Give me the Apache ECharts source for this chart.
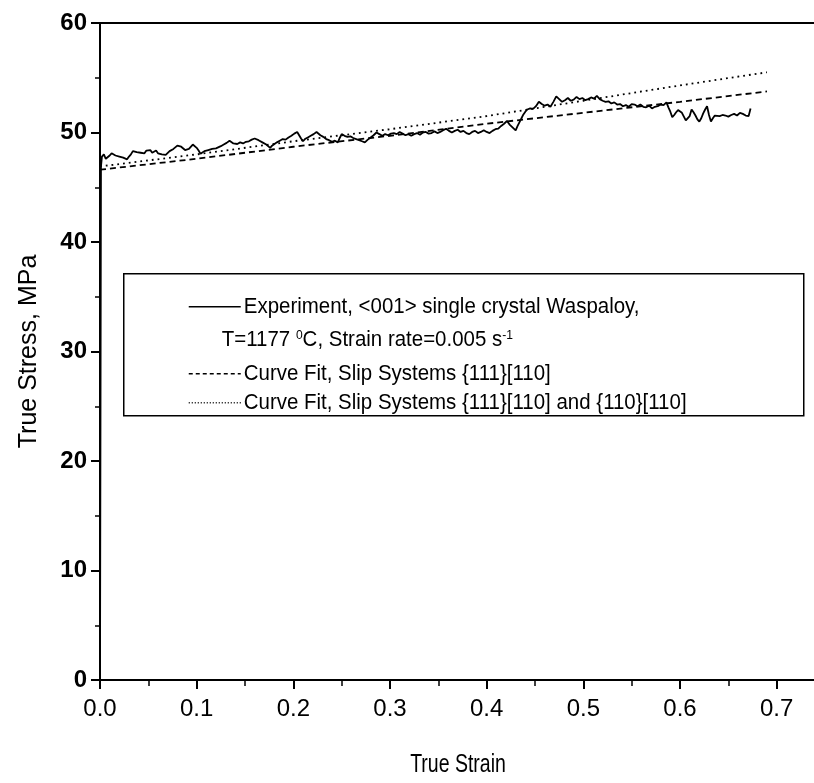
<!DOCTYPE html>
<html><head><meta charset="utf-8">
<script src="https://cdn.jsdelivr.net/npm/echarts@6/dist/echarts.min.js"></script>
<style>html,body{margin:0;padding:0;background:#fff;overflow:hidden;width:814px;height:783px}#c{width:825px;height:783px}</style>
</head><body><div id="c"></div>
<script>
// ---------- data ----------
// experiment: [true strain, true stress MPa]
const expCurve = [
[0,0],[0.001,46.9],[0.002,47.8],[0.004,48.0],[0.006,47.6],[0.008,47.7],[0.010,47.9],[0.012,48.1],[0.014,48.2],[0.016,47.9],
[0.018,48.0],[0.020,47.8],[0.022,47.9],[0.024,47.7],[0.026,47.6],[0.028,47.55],[0.030,47.8],[0.032,48.0],[0.034,48.3],[0.036,48.45],
[0.038,48.2],[0.040,48.35],[0.042,48.15],[0.044,48.3],[0.046,48.1],[0.048,48.35],[0.050,48.2],[0.052,48.4],[0.054,48.15],[0.056,48.3],
[0.058,48.35],[0.060,48.1],[0.062,48.2],[0.064,48.0],[0.066,48.15],[0.068,47.95],[0.070,48.1],[0.072,48.3],[0.074,48.25],[0.076,48.5],
[0.078,48.6],[0.080,48.8],[0.082,48.95],[0.084,48.7],[0.086,48.55],[0.088,48.4],[0.090,48.25],[0.092,48.5],[0.094,48.65],[0.096,48.9],
[0.098,48.95],[0.100,48.6],[0.102,48.35],[0.104,48.05],[0.106,48.15],[0.108,48.3],[0.110,48.2],[0.112,48.4],[0.114,48.3],[0.116,48.5],
[0.118,48.4],[0.120,48.55],[0.122,48.6],[0.125,48.75],[0.128,48.9],[0.131,49.05],[0.134,49.25],[0.136,49.1],[0.138,49.0],[0.140,48.85],
[0.142,48.95],[0.145,49.1],[0.148,49.0],[0.151,49.15],[0.154,49.2],[0.157,49.35],[0.160,49.45],[0.162,49.6],[0.164,49.3],[0.166,49.2],
[0.168,49.1],[0.170,49.15],[0.172,48.9],[0.174,48.75],[0.176,48.6],[0.178,48.8],[0.180,48.95],[0.183,49.1],[0.186,49.25],[0.189,49.4],
[0.192,49.35],[0.195,49.55],[0.198,49.7],[0.201,49.9],[0.204,50.05],[0.206,49.75],[0.208,49.45],[0.210,49.2],[0.212,49.4],[0.215,49.55],
[0.218,49.7],[0.221,49.85],[0.224,50.05],[0.226,49.95],[0.228,49.75],[0.231,49.6],[0.234,49.4],[0.237,49.3],[0.240,49.15],[0.243,49.25],
[0.246,49.1],[0.248,49.5],[0.250,49.85],[0.253,49.7],[0.256,49.6],[0.259,49.65],[0.262,49.5],[0.265,49.4],[0.268,49.3],[0.271,49.2],
[0.274,49.1],[0.277,49.35],[0.280,49.55],[0.283,49.75],[0.286,50.0],[0.289,49.85],[0.292,49.7],[0.295,49.85],[0.298,49.75],[0.301,49.9],
[0.304,49.95],[0.307,49.85],[0.310,50.05],[0.313,49.9],[0.316,49.75],[0.319,49.85],[0.322,49.7],[0.325,49.85],[0.328,49.95],[0.331,49.8],
[0.334,50.0],[0.337,50.05],[0.340,49.9],[0.343,49.95],[0.346,50.1],[0.349,49.95],[0.352,50.05],[0.355,50.2],[0.358,50.35],[0.361,50.15],
[0.364,50.0],[0.367,50.15],[0.370,50.25],[0.373,50.05],[0.376,50.15],[0.379,49.95],[0.382,49.85],[0.385,50.05],[0.388,50.15],[0.391,49.95],
[0.394,50.05],[0.397,50.2],[0.400,50.05],[0.403,49.95],[0.406,50.15],[0.409,50.3],[0.412,50.35],[0.415,50.6],[0.418,50.8],[0.421,51.05],
[0.424,50.7],[0.427,50.45],[0.430,50.2],[0.432,50.6],[0.434,50.95],[0.436,51.3],[0.438,51.65],[0.440,51.9],[0.442,52.1],[0.445,52.2],
[0.448,52.15],[0.451,52.4],[0.454,52.8],[0.457,52.6],[0.460,52.45],[0.463,52.55],[0.466,52.35],[0.469,52.8],[0.472,53.3],[0.475,53.05],
[0.478,52.8],[0.481,52.95],[0.484,53.15],[0.487,52.9],[0.490,53.0],[0.493,53.25],[0.496,53.05],[0.499,53.15],[0.502,52.95],[0.505,53.05],
[0.508,53.2],[0.511,53.1],[0.514,53.35],[0.517,53.05],[0.520,52.9],[0.523,52.8],[0.526,52.85],[0.529,52.65],[0.532,52.75],[0.535,52.55],
[0.538,52.6],[0.541,52.4],[0.544,52.5],[0.547,52.35],[0.550,52.6],[0.553,52.55],[0.556,52.4],[0.559,52.55],[0.562,52.35],[0.565,52.3],
[0.568,52.45],[0.571,52.2],[0.574,52.35],[0.577,52.4],[0.580,52.55],[0.583,52.5],[0.586,52.75],[0.588,52.3],[0.590,51.9],[0.592,51.4],
[0.594,51.6],[0.596,51.85],[0.598,52.05],[0.600,52.15],[0.602,51.8],[0.604,51.45],[0.606,51.1],[0.608,51.0],[0.610,51.5],[0.612,52.1],
[0.614,51.85],[0.616,51.55],[0.618,51.2],[0.620,51.0],[0.622,51.3],[0.624,51.75],[0.626,52.1],[0.628,52.4],[0.630,51.6],[0.632,51.0],
[0.634,51.3],[0.636,51.55],[0.638,51.65],[0.641,51.5],[0.644,51.6],[0.647,51.55],[0.650,51.45],[0.653,51.6],[0.656,51.7],[0.659,51.55],
[0.662,51.8],[0.665,51.7],[0.668,51.55],[0.671,51.5],[0.673,52.2]
];
const fitStrain  = [0, 0.1, 0.2, 0.3, 0.4, 0.5, 0.6, 0.69];
const fit1Stress = [46.6, 47.6, 48.7, 49.7, 50.8, 51.8, 52.8, 53.75];   // {111}[110]
const fit2Stress = [46.9, 48.0, 49.2, 50.3, 51.5, 52.9, 54.3, 55.5];    // {111}[110] and {110}[110]
const legendLines = [
  'Experiment, <001> single crystal Waspaloy,',
  'T=1177 {sup|0}C, Strain rate=0.005 s{sup|-1}',
  'Curve Fit, Slip Systems {111}[110]',
  'Curve Fit, Slip Systems {111}[110] and {110}[110]'
];
const xTitle = 'True Strain';
const yTitle = 'True Stress, MPa';

const zip = (a, b) => a.map((v, i) => [v, b[i]]);
const FONT = 'Liberation Sans, Arial, sans-serif';

const chart = echarts.init(document.getElementById('c'), null, {renderer: 'canvas'});
const gl = 123, gt = 273;
const legendFont = '22px ' + FONT;
const txt = (y, x, text, extra) => Object.assign({type: 'text', x: x, y: y, scaleX: 0.93,
  style: {text: text, font: legendFont, fill: '#000', verticalAlign: 'middle'}}, extra || {});
chart.setOption({
  animation: false,
  backgroundColor: '#fff',
  grid: {left: 100, right: 0, top: 23, bottom: 103},
  xAxis: [{
    type: 'value', min: 0, max: 0.75, interval: 0.1,
    axisLine: {lineStyle: {color: '#000', width: 2}},
    axisTick: {length: 9, lineStyle: {color: '#000', width: 2}},
    minorTick: {show: true, splitNumber: 2, length: 6, lineStyle: {color: '#000', width: 1.5}},
    axisLabel: {showMaxLabel: false, margin: 17, fontSize: 24, color: '#000', fontFamily: FONT,
      formatter: v => v.toFixed(1)},
    splitLine: {show: false}
  }, {
    type: 'value', position: 'top', min: 0, max: 0.75,
    axisLine: {show: true, lineStyle: {color: '#000', width: 2}},
    axisTick: {show: false}, axisLabel: {show: false}, splitLine: {show: false}
  }],
  yAxis: {
    type: 'value', min: 0, max: 60, interval: 10,
    name: yTitle, nameLocation: 'middle', nameGap: 58, nameRotate: 90,
    nameTextStyle: {fontSize: 25, color: '#000', fontFamily: FONT},
    axisLine: {lineStyle: {color: '#000', width: 2}},
    axisTick: {length: 9, lineStyle: {color: '#000', width: 2}},
    minorTick: {show: true, splitNumber: 2, length: 5, lineStyle: {color: '#000', width: 1.5}},
    axisLabel: {margin: 13, fontSize: 24, fontWeight: 'bold', color: '#000', fontFamily: FONT},
    splitLine: {show: false}
  },
  series: [
    {name: 'exp', type: 'line', data: expCurve, showSymbol: false,
     lineStyle: {color: '#000', width: 1.8}},
    {name: 'fit1', type: 'line', data: zip(fitStrain, fit1Stress), showSymbol: false,
     lineStyle: {color: '#000', width: 1.8, type: [6, 4]}},
    {name: 'fit2', type: 'line', data: zip(fitStrain, fit2Stress), showSymbol: false,
     lineStyle: {color: '#000', width: 1.8, type: [1.8, 4]}}
  ],
  graphic: [
    {type: 'text', x: 458, y: 765, scaleX: 0.78,
     style: {text: xTitle, font: '25px ' + FONT, fill: '#000', align: 'center', verticalAlign: 'middle'}},
    {
    type: 'group', left: gl, top: gt,
    children: [
      {type: 'rect', shape: {x: 0, y: 0, width: 680, height: 142},
       style: {fill: '#fff', stroke: '#000', lineWidth: 1.5}},
      {type: 'line', shape: {x1: 65, y1: 33, x2: 117, y2: 33}, style: {stroke: '#000', lineWidth: 1.3}},
      {type: 'line', shape: {x1: 65, y1: 100, x2: 117, y2: 100}, style: {stroke: '#000', lineWidth: 1.3, lineDash: [4, 3]}},
      {type: 'line', shape: {x1: 65, y1: 129, x2: 117, y2: 129}, style: {stroke: '#000', lineWidth: 1.3, lineDash: [1, 2]}},
      txt(33, 120, legendLines[0]),
      txt(66, 98, legendLines[1], {style: {text: legendLines[1], font: legendFont, fill: '#000', verticalAlign: 'middle',
        rich: {sup: {fontSize: 13, fontFamily: FONT, verticalAlign: 'top', lineHeight: 13, padding: [0, 0, 11, 0]}}}}),
      txt(100, 120, legendLines[2]),
      txt(129, 120, legendLines[3])
    ]
  }]
});
</script></body></html>
